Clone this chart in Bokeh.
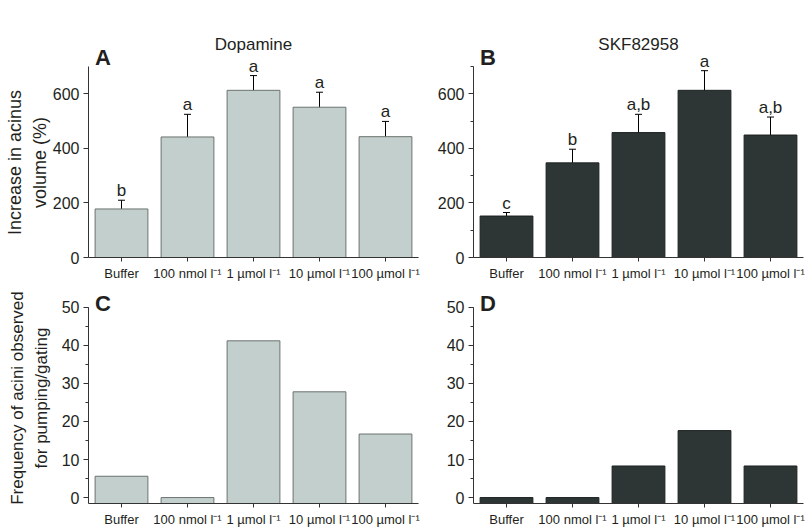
from bokeh.plotting import figure
from bokeh.models import (FactorRange, Range1d, SingleIntervalTicker, Whisker,
                          ColumnDataSource, Label, LabelSet, TeeHead)
from bokeh.layouts import column, row
from bokeh.embed import file_html
from bokeh.resources import INLINE
from bokeh.core.properties import value

categories = ["Buffer", "100 nmol l\u207b\u00b9", "1 \u00b5mol l\u207b\u00b9",
              "10 \u00b5mol l\u207b\u00b9", "100 \u00b5mol l\u207b\u00b9"]

dopamine_volume = [178, 442, 613, 551, 443]
dopamine_sem = [32, 83, 54, 55, 56]
dopamine_letters = ["b", "a", "a", "a", "a"]

skf_volume = [152, 347, 458, 613, 449]
skf_sem = [13, 50, 67, 72, 66]
skf_letters = ["c", "b", "a,b", "a", "a,b"]

dopamine_freq = [5.6, 0, 41.2, 27.8, 16.7]
skf_freq = [0, 0, 8.3, 17.6, 8.3]

FONT = "Liberation Sans"
TXT = "#231f20"
AX = "#333333"
LIGHT_FILL, LIGHT_LINE = "#c2cfcc", "#6b736f"
DARK_FILL, DARK_LINE = "#2e3535", "#1c2121"
PAD = "\u00a0" * 7


def make_panel(values, fill, line, width, height, borders, y0, y1, ytop,
               interval, minor, letter, letter_dy, title=None, ylabel=None,
               label_size="18px", label_standoff=0, sem=None, letters=None,
               base=0):
    bl, br, bt, bb = borders
    p = figure(x_range=FactorRange(*categories, range_padding=0),
               y_range=Range1d(y0, y1), width=width, height=height,
               output_backend="svg", toolbar_location=None,
               min_border_left=bl, min_border_right=br,
               min_border_top=bt, min_border_bottom=bb)
    p.outline_line_color = None
    p.xgrid.visible = False
    p.ygrid.visible = False
    p.background_fill_color = "white"

    data = dict(cat=categories, val=values)
    if sem is not None:
        data["upper"] = [v + s for v, s in zip(values, sem)]
        data["lower"] = [v - s for v, s in zip(values, sem)]
        data["letter"] = letters
    src = ColumnDataSource(data)
    p.vbar(x="cat", top="val", bottom=base, width=0.8, source=src,
           fill_color=fill, line_color=line, line_width=1)

    if sem is not None:
        w = Whisker(base="cat", upper="upper", lower="lower", source=src,
                    line_color="black", line_width=1,
                    upper_head=TeeHead(size=7, line_color="black", line_width=1),
                    lower_head=TeeHead(size=7, line_color="black", line_width=1))
        p.add_layout(w)
        ls = LabelSet(x="cat", y="upper", text="letter", source=src,
                      text_align="center", text_baseline="alphabetic",
                      y_offset=4, text_font=value(FONT),
                      text_font_size=value("17px"), text_color=TXT)
        p.add_layout(ls)

    xa = p.xaxis[0]
    xa.axis_line_color = AX
    xa.major_tick_line_color = AX
    xa.major_tick_out = 4
    xa.major_tick_in = 0
    xa.minor_tick_line_color = None
    xa.major_label_text_font = FONT
    xa.major_label_text_font_size = "13px"
    xa.major_label_text_color = TXT
    xa.major_label_standoff = 4

    ya = p.yaxis[0]
    ya.bounds = (y0, ytop)
    ya.ticker = SingleIntervalTicker(interval=interval, num_minor_ticks=minor)
    ya.axis_line_color = AX
    ya.major_tick_line_color = AX
    ya.minor_tick_line_color = AX
    ya.major_tick_out = 5
    ya.major_tick_in = 0
    ya.minor_tick_out = 3
    ya.minor_tick_in = 0
    ya.major_label_text_font = FONT
    ya.major_label_text_font_size = "16px"
    ya.major_label_text_color = TXT
    ya.major_label_standoff = 4
    if ylabel:
        ya.axis_label = ylabel
        ya.axis_label_text_font = FONT
        ya.axis_label_text_font_size = label_size
        ya.axis_label_text_line_height = 1.25
        ya.axis_label_text_font_style = "normal"
        ya.axis_label_text_color = TXT
        ya.axis_label_standoff = label_standoff

    p.add_layout(Label(x=0.1, y=ytop, y_offset=letter_dy, text=letter,
                       text_font=FONT, text_font_size="22px",
                       text_font_style="bold", text_color=TXT,
                       text_baseline="alphabetic"))
    if title:
        p.add_layout(Label(x=2.5, y=ytop, y_offset=22, text=title,
                           text_font=FONT, text_font_size="17px",
                           text_color=TXT, text_align="center",
                           text_baseline="alphabetic"))
    return p


pA = make_panel(dopamine_volume, LIGHT_FILL, LIGHT_LINE, 420, 290,
                (88, 2, 32, 33), 0, 825, 700, 200, 0, "A", 9, title="Dopamine",
                ylabel="Increase in acinus" + PAD + "\nvolume (%)" + PAD,
                label_standoff=0,
                sem=dopamine_sem, letters=dopamine_letters, base=0)
pB = make_panel(skf_volume, DARK_FILL, DARK_LINE, 392, 290,
                (53, 9, 32, 33), 0, 825, 700, 200, 2, "B", 9, title="SKF82958",
                sem=skf_sem, letters=skf_letters, base=0)
pC = make_panel(dopamine_freq, LIGHT_FILL, LIGHT_LINE, 420, 239,
                (88, 2, 2, 24), -1.56, 53.9, 50, 10, 2, "C", 4,
                ylabel="Frequency of acini observed\nfor pumping/gating",
                label_size="17px", label_standoff=8, base=-1.56)
pD = make_panel(skf_freq, DARK_FILL, DARK_LINE, 392, 239,
                (53, 9, 2, 24), -1.56, 53.9, 50, 10, 2, "D", 4, base=-1.56)

layout = column(row(pA, pB), row(pC, pD))

open("out.html", "w").write(file_html(layout, INLINE))
